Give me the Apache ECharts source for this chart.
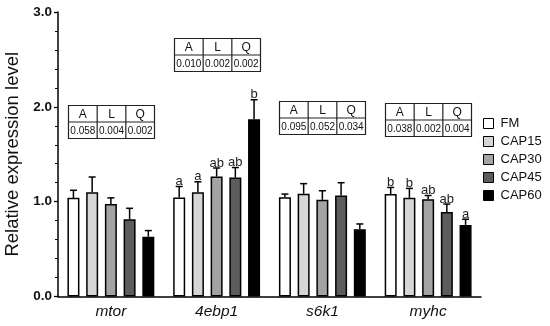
<!DOCTYPE html>
<html>
<head>
<meta charset="utf-8">
<script src="https://cdn.jsdelivr.net/npm/echarts@6/dist/echarts.min.js"></script>
<style>
html,body{margin:0;padding:0;background:#fff;}
#main{width:550px;height:326px;}
</style>
</head>
<body>
<div id="main"></div>
<script>
// ---- data ----
const categories = ['mtor', '4ebp1', 's6k1', 'myhc'];
const seriesNames = ['FM', 'CAP15', 'CAP30', 'CAP45', 'CAP60'];
const FM    = [1.04, 1.045, 1.047, 1.08];
const CAP15 = [1.10, 1.10, 1.083, 1.04];
const CAP30 = [0.975, 1.265, 1.02, 1.025];
const CAP45 = [0.815, 1.255, 1.065, 0.89];
const CAP60 = [0.63, 1.87, 0.71, 0.755];
const FM_sd    = [0.08, 0.115, 0.033, 0.07];
const CAP15_sd = [0.16, 0.11, 0.107, 0.10];
const CAP30_sd = [0.065, 0.09, 0.095, 0.04];
const CAP45_sd = [0.115, 0.105, 0.135, 0.085];
const CAP60_sd = [0.065, 0.205, 0.055, 0.06];
const FM_sig    = ['', 'a', '', 'b'];
const CAP15_sig = ['', 'a', '', 'b'];
const CAP30_sig = ['', 'ab', '', 'ab'];
const CAP45_sig = ['', 'ab', '', 'ab'];
const CAP60_sig = ['', 'b', '', 'a'];
const tableHeader = ['A', 'L', 'Q'];
const pA = ['0.058', '0.010', '0.095', '0.038'];
const pL = ['0.004', '0.002', '0.052', '0.002'];
const pQ = ['0.002', '0.002', '0.034', '0.004'];
const yTicks = [0, 1, 2, 3];

// ---- style / layout ----
const FONT = '"Liberation Sans", Arial, Helvetica, sans-serif';
const colors = ['#ffffff', '#d6d6d6', '#a3a3a3', '#5c5c5c', '#000000'];
const BAR_W = 12;
const BAR_GAP = 0.56;
const SPACING = BAR_W * (1 + BAR_GAP);
const tableTopPx = [105, 38, 101, 103];
const TABLE_W = 86, TABLE_H = 33;

const means = [FM, CAP15, CAP30, CAP45, CAP60];
const sds = [FM_sd, CAP15_sd, CAP30_sd, CAP45_sd, CAP60_sd];
const sigs = [FM_sig, CAP15_sig, CAP30_sig, CAP45_sig, CAP60_sig];

const errData = [];
for (let s = 0; s < 5; s++) {
  for (let c = 0; c < categories.length; c++) {
    errData.push([c, s, means[s][c], sds[s][c], sigs[s][c]]);
  }
}

const chart = echarts.init(document.getElementById('main'), null, {renderer: 'canvas'});

const barSeries = seriesNames.map((name, i) => ({
  name: name,
  type: 'bar',
  data: means[i],
  barWidth: BAR_W,
  barGap: (BAR_GAP * 100) + '%',
  itemStyle: {color: colors[i], borderColor: '#000', borderWidth: 1.5},
  emphasis: {disabled: true},
  z: 2
}));

const errSeries = {
  type: 'custom',
  data: errData,
  z: 5,
  silent: true,
  renderItem: function (params, api) {
    const c = api.value(0), s = api.value(1), m = api.value(2), sd = api.value(3);
    const sig = errData[params.dataIndex][4];
    const base = api.coord([c, m]);
    const top = api.coord([c, m + sd]);
    const x = base[0] + (s - 2) * SPACING;
    const children = [
      {type: 'line', shape: {x1: x, y1: base[1], x2: x, y2: top[1]}, style: {stroke: '#000', lineWidth: 1.5}},
      {type: 'line', shape: {x1: x - 3.5, y1: top[1], x2: x + 3.5, y2: top[1]}, style: {stroke: '#000', lineWidth: 1.5}}
    ];
    if (sig) {
      children.push({type: 'text', style: {text: sig, x: x, y: top[1] + 1.5, textAlign: 'center', textVerticalAlign: 'bottom', fontSize: 13, fontFamily: FONT, fill: '#222'}});
    }
    return {type: 'group', children: children};
  }
};

chart.setOption({
  animation: false,
  backgroundColor: '#fff',
  grid: {left: 58, right: 69, top: 12, bottom: 29.5, containLabel: false, outerBoundsMode: 'none'},
  legend: {
    orient: 'vertical', left: 483, top: 117,
    itemWidth: 10, itemHeight: 10, itemGap: 5, padding: 0,
    icon: 'rect',
    data: seriesNames,
    itemStyle: {borderColor: '#000', borderWidth: 1},
    textStyle: {fontSize: 13, fontFamily: FONT, color: '#111', padding: [0, 0, 0, 2]}
  },
  xAxis: {
    type: 'category', data: categories,
    axisLine: {lineStyle: {color: '#000', width: 1.5}},
    axisTick: {alignWithLabel: true, length: 4, lineStyle: {color: '#000', width: 1.3}},
    axisLabel: {fontSize: 15.5, fontStyle: 'italic', fontFamily: FONT, color: '#111', margin: 7}
  },
  yAxis: {
    type: 'value', min: yTicks[0], max: yTicks[yTicks.length - 1], interval: 1,
    name: 'Relative expression level', nameLocation: 'middle', nameGap: 32,
    nameTextStyle: {fontSize: 18.5, fontFamily: FONT, color: '#111'},
    axisLine: {show: true, lineStyle: {color: '#000', width: 1.5}},
    axisTick: {show: true, length: 4, lineStyle: {color: '#000', width: 1.3}},
    minorTick: {show: true, splitNumber: 5, length: 3, lineStyle: {color: '#000', width: 1}},
    splitLine: {show: false},
    axisLabel: {fontSize: 13.5, fontWeight: 'bold', fontFamily: FONT, color: '#111', margin: 6,
      formatter: v => v.toFixed(1)}
  },
  series: barSeries.concat([errSeries])
});

// tables of p-values
const graphics = [];
for (let c = 0; c < categories.length; c++) {
  const cx = chart.convertToPixel({xAxisIndex: 0}, categories[c]);
  const x0 = Math.round(cx - TABLE_W / 2) + 0.5;
  const y0 = tableTopPx[c] + 0.5;
  const colW = TABLE_W / 3, rowH = TABLE_H / 2;
  const ch = [
    {type: 'rect', shape: {x: x0, y: y0, width: TABLE_W, height: TABLE_H}, style: {fill: '#fff', stroke: '#222', lineWidth: 1.2}},
    {type: 'line', shape: {x1: x0, y1: y0 + rowH, x2: x0 + TABLE_W, y2: y0 + rowH}, style: {stroke: '#222', lineWidth: 1.2}},
    {type: 'line', shape: {x1: x0 + colW, y1: y0, x2: x0 + colW, y2: y0 + TABLE_H}, style: {stroke: '#222', lineWidth: 1.2}},
    {type: 'line', shape: {x1: x0 + 2 * colW, y1: y0, x2: x0 + 2 * colW, y2: y0 + TABLE_H}, style: {stroke: '#222', lineWidth: 1.2}}
  ];
  const vals = [pA[c], pL[c], pQ[c]];
  for (let k = 0; k < 3; k++) {
    ch.push({type: 'text', style: {text: tableHeader[k], x: x0 + colW * (k + 0.5), y: y0 + rowH / 2 + 0.5, textAlign: 'center', textVerticalAlign: 'middle', fontSize: 12, fontFamily: FONT, fill: '#111'}});
    ch.push({type: 'text', style: {text: vals[k], x: x0 + colW * (k + 0.5), y: y0 + rowH * 1.5 + 0.5, textAlign: 'center', textVerticalAlign: 'middle', fontSize: 10, fontFamily: FONT, fill: '#111'}});
  }
  graphics.push({type: 'group', children: ch, silent: true, z: 10});
}
chart.setOption({graphic: graphics});
</script>
</body>
</html>
